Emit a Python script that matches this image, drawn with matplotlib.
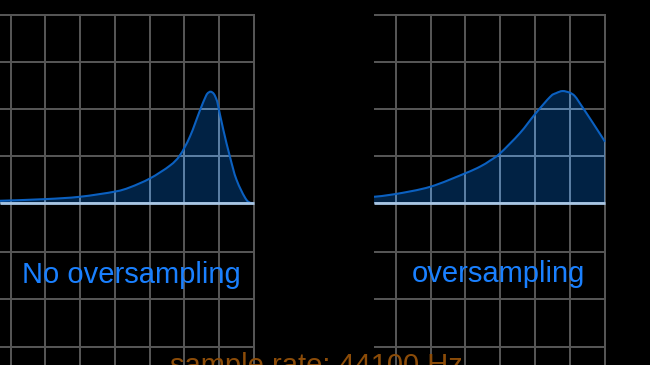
import matplotlib
matplotlib.use('Agg')
import matplotlib.pyplot as plt
from matplotlib.path import Path
from matplotlib.patches import PathPatch

# curve, x in grid columns, y in grid rows above baseline
left_x = [-0.31, 0.99, 1.99, 3.0, 3.43, 4.01, 4.58, 4.87, 5.16, 5.45, 5.59, 5.66,
          5.755, 5.85, 5.93, 5.97, 6.12, 6.31, 6.5, 6.79, 7.0]
left_y = [0.055, 0.09, 0.14, 0.25, 0.34, 0.53, 0.80, 1.02, 1.42, 1.98, 2.23, 2.33,
          2.37, 2.32, 2.19, 2.07, 1.56, 0.99, 0.50, 0.07, 0.0]

right_x = [-0.62, -0.01, 0.99, 1.99, 2.42, 2.71, 2.99, 3.56, 3.99, 4.43, 4.6, 4.785,
           4.99, 5.13, 5.28, 5.66, 6.0]
right_y = [0.14, 0.197, 0.352, 0.637, 0.78, 0.91, 1.06, 1.49, 1.89, 2.263, 2.34,
           2.384, 2.348, 2.28, 2.123, 1.699, 1.308]

labels = ['No oversampling', 'oversampling']
footer = 'sample rate: 44100 Hz'

grid_rows = [4, 3, 2, 1, 0, -1.04, -2.03, -3.05]

GRID = '#555555'
GRID_IN = '#5a7ea3'
FILL = '#012244'
EDGE = '#0b60c0'
BASE = '#a9c6e4'
TEXT = '#1a80ff'
ORANGE = '#8c4c08'

W, H = 650, 365
fig = plt.figure(figsize=(6.5, 3.65), dpi=100, facecolor='black')


def smooth(xs, ys):
    # catmull-rom through the read points, as bezier segments
    pts = list(zip(xs, ys))
    n = len(pts)
    verts = [pts[0]]
    codes = [Path.MOVETO]
    for i in range(n - 1):
        p0 = pts[max(i - 1, 0)]
        p1 = pts[i]
        p2 = pts[i + 1]
        p3 = pts[min(i + 2, n - 1)]
        c1 = (p1[0] + (p2[0] - p0[0]) / 6, p1[1] + (p2[1] - p0[1]) / 6)
        c2 = (p2[0] - (p3[0] - p1[0]) / 6, p2[1] - (p3[1] - p1[1]) / 6)
        verts += [c1, c2, p2]
        codes += [Path.CURVE4] * 3
    return verts, codes


def panel(px0, px1, xlim, ncols, xs, ys):
    ax = fig.add_axes([px0 / W, 0, (px1 - px0) / W, 352 / H])
    ax.set_facecolor('black')
    ax.set_xlim(*xlim)
    ax.set_ylim(-3.43, 4.04)
    ax.axis('off')

    cols = list(range(ncols + 1))
    kw = dict(linewidth=1.45, capstyle='projecting')
    ax.vlines(cols, -3.5, 4, color=GRID, zorder=1, **kw)
    ax.hlines(grid_rows, xlim[0], ncols, color=GRID, zorder=1, **kw)

    verts, codes = smooth(xs, ys)
    area = Path(verts + [(xs[-1], 0), (xs[0], 0), (xs[0], 0)],
                codes + [Path.LINETO, Path.LINETO, Path.CLOSEPOLY])
    fill = PathPatch(area, facecolor=FILL, edgecolor='none', zorder=2)
    ax.add_patch(fill)

    # grid shows brighter through the fill
    v2 = ax.vlines(cols, -3.5, 4, color=GRID_IN, zorder=3, **kw)
    h2 = ax.hlines(grid_rows, xlim[0], ncols, color=GRID_IN, zorder=3, **kw)
    v2.set_clip_path(fill)
    h2.set_clip_path(fill)

    ax.add_patch(PathPatch(Path(verts, codes), facecolor='none', edgecolor=EDGE,
                           linewidth=1.5, zorder=4))
    ax.hlines(0, xlim[0], ncols, color=BASE, linewidth=2.0, zorder=5)
    return ax


panel(0, 256, (-0.308, 7.06), 7, left_x, left_y)
panel(374, 607, (-0.62, 6.057), 6, right_x, right_y)

font = ['Liberation Sans', 'DejaVu Sans']
fig.text(131 / W, 1 - 283.3 / H, labels[0], color=TEXT, fontsize=21,
         family=font, ha='center', va='baseline')
fig.text(498.5 / W, 1 - 282.3 / H, labels[1], color=TEXT, fontsize=21,
         family=font, ha='center', va='baseline')
fig.text(316 / W, 1 - 373.5 / H, footer, color=ORANGE, fontsize=21,
         family=font, ha='center', va='baseline')

fig.savefig('out.png', dpi=100, facecolor='black')
